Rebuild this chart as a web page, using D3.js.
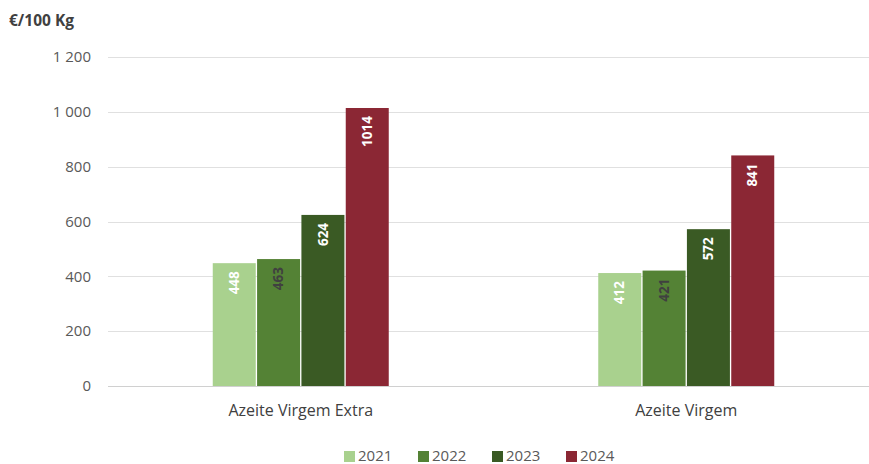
<!DOCTYPE html>
<html>
<head>
<meta charset="utf-8">
<script src="https://cdn.jsdelivr.net/npm/d3@7"></script>
<style>
  body { margin: 0; background: #fff; }
  text { font-family: "Open Sans", "Liberation Sans", sans-serif; }
</style>
</head>
<body>
<div id="chart"></div>
<script>
const categories = ["Azeite Virgem Extra", "Azeite Virgem"]
const years = ["2021", "2022", "2023", "2024"]
const values2021 = [448, 412]
const values2022 = [463, 421]
const values2023 = [624, 572]
const values2024 = [1014, 841]
const yTicks = [0, 200, 400, 600, 800, 1000, 1200]
const colors = ["#a9d18e", "#548235", "#3a5a24", "#8b2734"]
const labelColors = ["#ffffff", "#404040", "#ffffff", "#ffffff"]

const series = [values2021, values2022, values2023, values2024]

var width = 869, height = 464
var svg = d3.select("#chart")
  .append("svg")
    .attr("width", width)
    .attr("height", height)

var x = d3.scaleBand()
  .domain(categories)
  .range([108, 879])

var xInner = d3.scaleBand()
  .domain(years)
  .range([0, 176])
  .paddingInner(0.03)

var y = d3.scaleLinear()
  .domain([0, 1200])
  .range([386, 57])

// gridlines
svg.append("g")
  .selectAll("line")
  .data(yTicks)
  .enter()
  .append("line")
    .attr("x1", 108)
    .attr("x2", 869)
    .attr("y1", d => Math.round(y(d)) + 0.5)
    .attr("y2", d => Math.round(y(d)) + 0.5)
    .style("stroke", d => d === 0 ? "#d0d0d0" : "#e0e0e0")
    .style("stroke-width", 1)

// y tick labels
svg.append("g")
  .selectAll("text")
  .data(yTicks)
  .enter()
  .append("text")
    .attr("x", 91)
    .attr("y", d => y(d))
    .attr("dy", "0.35em")
    .attr("text-anchor", "end")
    .style("font-size", "15px")
    .style("fill", "#595959")
    .text(d => d3.format(",")(d).replace(",", " "))

svg.append("text")
  .attr("x", 9)
  .attr("y", 26)
  .style("font-size", "15.5px")
  .style("font-weight", "bold")
  .style("fill", "#404040")
  .text("€/100 Kg")

// bars
var groups = svg.append("g")
  .selectAll("g")
  .data(categories)
  .enter()
  .append("g")
    .attr("transform", d => "translate(" + (x(d) + x.bandwidth() / 2 - 88) + ",0)")

groups.each(function (cat, ci) {
  var g = d3.select(this)
  years.forEach(function (yr, si) {
    var v = series[si][ci]
    g.append("rect")
      .attr("x", xInner(yr))
      .attr("y", y(v))
      .attr("width", xInner.bandwidth())
      .attr("height", y(0) - y(v))
      .style("fill", colors[si])
    var cx = xInner(yr) + xInner.bandwidth() / 2
    var ty = y(v) + 8
    g.append("text")
      .attr("transform", "translate(" + cx + "," + ty + ") rotate(-90)")
      .attr("text-anchor", "end")
      .attr("dy", "0.35em")
      .style("font-size", "13.5px")
      .style("font-weight", "bold")
      .style("fill", labelColors[si])
      .text(v)
  })
})

// category labels
svg.append("g")
  .selectAll("text")
  .data(categories)
  .enter()
  .append("text")
    .attr("x", d => x(d) + x.bandwidth() / 2)
    .attr("y", 416)
    .attr("text-anchor", "middle")
    .style("font-size", "16px")
    .style("fill", "#404040")
    .text(d => d)

// legend
var legend = svg.append("g")
  .selectAll("g")
  .data(years)
  .enter()
  .append("g")
    .attr("transform", (d, i) => "translate(" + (344 + i * 74) + ",451)")

legend.append("rect")
  .attr("width", 11)
  .attr("height", 11)
  .style("fill", (d, i) => colors[i])

legend.append("text")
  .attr("x", 14)
  .attr("y", 5)
  .attr("dy", "0.35em")
  .style("font-size", "15px")
  .style("fill", "#595959")
  .text(d => d)
</script>
</body>
</html>
